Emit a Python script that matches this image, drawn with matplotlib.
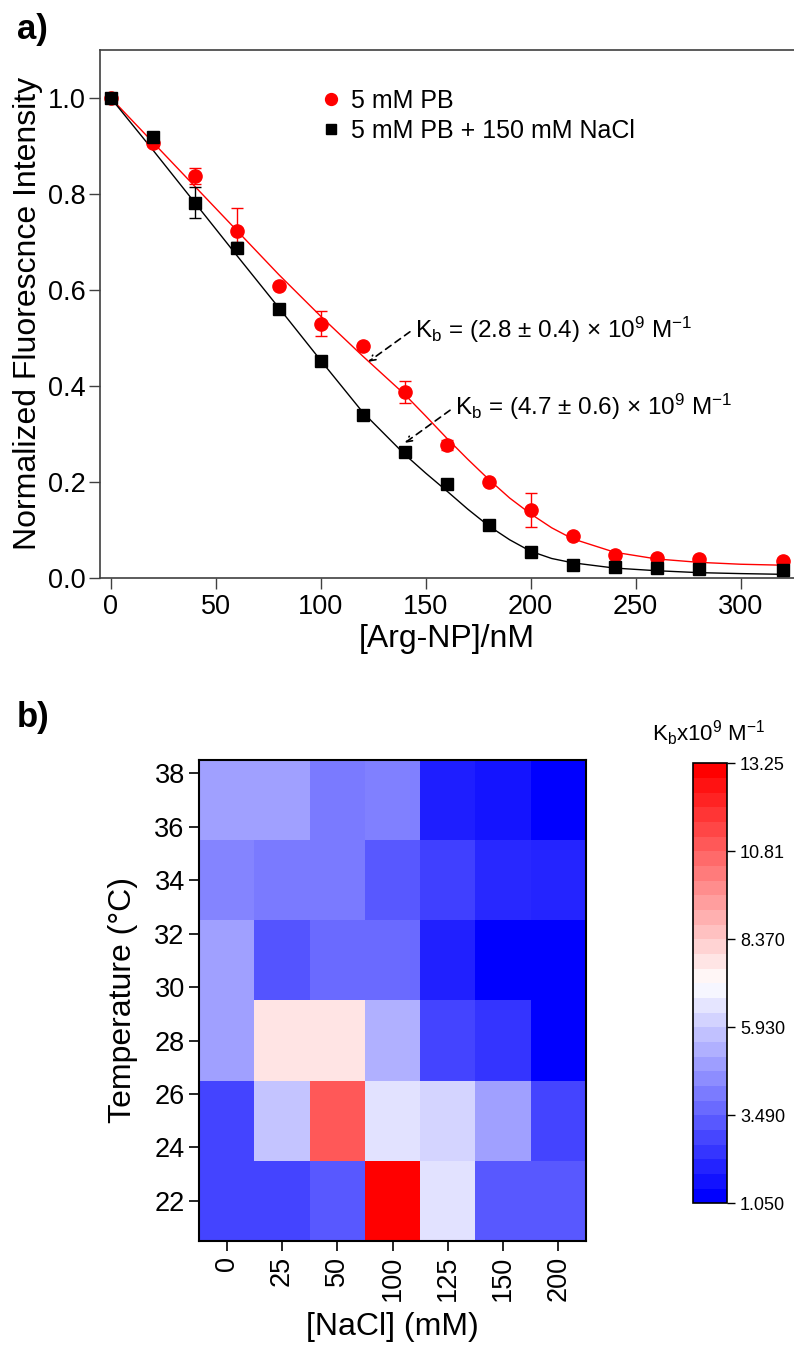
import numpy as np
import matplotlib
matplotlib.use("Agg")
import matplotlib.pyplot as plt
from matplotlib.colors import Normalize
from matplotlib.cm import ScalarMappable

plt.rcParams['font.family'] = ['Liberation Sans', 'DejaVu Sans']
plt.rcParams['mathtext.fontset'] = 'custom'
plt.rcParams['mathtext.rm'] = 'Liberation Sans'
plt.rcParams['mathtext.it'] = 'Liberation Sans:italic'

# ---- panel a data ----
conc = [0, 20, 40, 60, 80, 100, 120, 140, 160, 180, 200, 220, 240, 260, 280, 320]
pb = [1.0, 0.905, 0.837, 0.723, 0.608, 0.529, 0.482, 0.387, 0.277, 0.200, 0.141,
      0.086, 0.047, 0.040, 0.039, 0.034]
pb_err = [0, 0.005, 0.016, 0.047, 0.005, 0.026, 0.006, 0.022, 0.010, 0, 0.035,
          0, 0, 0, 0, 0]
nacl = [1.0, 0.919, 0.782, 0.688, 0.561, 0.452, 0.340, 0.261, 0.195, 0.110, 0.053,
        0.027, 0.022, 0.020, 0.018, 0.016]
nacl_err = [0, 0, 0.033, 0.012, 0, 0, 0, 0, 0, 0, 0, 0, 0, 0, 0, 0]

fit_x = [0, 20, 40, 60, 80, 100, 120, 140, 150, 160, 170, 180, 190, 200, 210, 220,
         240, 260, 280, 300, 320]
fit_pb = [1.0, 0.908, 0.816, 0.724, 0.632, 0.545, 0.462, 0.382, 0.337, 0.291, 0.247,
          0.205, 0.166, 0.133, 0.104, 0.081, 0.053, 0.039, 0.032, 0.028, 0.026]
fit_nacl = [1.0, 0.892, 0.782, 0.672, 0.563, 0.453, 0.345, 0.257, 0.218, 0.181, 0.143,
            0.108, 0.079, 0.055, 0.040, 0.031, 0.020, 0.0145, 0.0105, 0.0085, 0.007]

# ---- panel b data ----
nacl_labels = ['0', '25', '50', '100', '125', '150', '200']
temps = [22, 25, 28, 31, 34, 37]
kb = [
    [2.68, 2.68, 3.16, 13.25, 6.46, 3.16, 3.16],
    [2.68, 5.74, 11.15, 6.46, 6.12, 4.88, 2.68],
    [4.88, 7.80, 7.80, 5.26, 2.68, 2.29, 1.05],
    [4.88, 3.08, 3.59, 3.59, 1.86, 1.05, 1.05],
    [4.23, 3.99, 3.99, 3.16, 2.58, 2.01, 1.91],
    [4.88, 4.88, 3.99, 4.11, 1.81, 1.53, 1.05],
]
cbar_ticks = [1.05, 3.49, 5.93, 8.37, 10.81, 13.25]
cbar_labels = ['1.050', '3.490', '5.930', '8.370', '10.81', '13.25']

fig = plt.figure(figsize=(7.94, 13.57), dpi=100)

# ================= panel a =================
ax = fig.add_axes([0.1259, 0.5743, 0.8741, 0.3889])
spine_c = '#404040'
ax.plot(fit_x, fit_pb, color='red', lw=1.0, zorder=2)
ax.plot(fit_x, fit_nacl, color='black', lw=1.0, zorder=2)
ax.errorbar(conc, pb, yerr=pb_err, fmt='o', color='red', ms=9.5, capsize=4,
            elinewidth=1, capthick=1, zorder=3, label='5 mM PB')
ax.errorbar(conc, nacl, yerr=nacl_err, fmt='s', color='black', ms=8.5, capsize=4,
            elinewidth=1, capthick=1, zorder=4, label='5 mM PB + 150 mM NaCl')

ax.set_xlim(-5.1, 325.4)
ax.set_ylim(0, 1.1)
ax.set_xticks([0, 50, 100, 150, 200, 250, 300])
ax.set_yticks([0.0, 0.2, 0.4, 0.6, 0.8, 1.0])
ax.set_yticklabels(['0.0', '0.2', '0.4', '0.6', '0.8', '1.0'])
ax.tick_params(direction='out', length=8, width=1, colors=spine_c,
               labelcolor='black', labelsize=19.5)
ax.tick_params(axis='y', pad=2)
for s in ['left', 'bottom', 'top']:
    ax.spines[s].set_color(spine_c)
    ax.spines[s].set_linewidth(1.2)
ax.spines['right'].set_visible(False)
ax.set_xlabel('[Arg-NP]/nM', fontsize=23, labelpad=3)
ax.set_ylabel('Normalized Fluorescnce Intensity', fontsize=23, labelpad=4)

h, l = ax.get_legend_handles_labels()
ax.legend([hh[0] for hh in h], l, loc='upper left', bbox_to_anchor=(0.308, 0.945),
          frameon=False, fontsize=18, handlelength=0.6, handletextpad=0.5,
          labelspacing=0.25, borderaxespad=0, markerscale=0.9)

arrow = dict(arrowstyle='->', linestyle=(0, (4, 3)), color='black', lw=1.2,
             shrinkA=0, shrinkB=0)
ax.annotate('', xy=(122.7, 0.45), xytext=(142.5, 0.5125), arrowprops=arrow)
ax.annotate('', xy=(140.1, 0.281), xytext=(161.6, 0.349), arrowprops=arrow)
ax.text(144.9, 0.516,
        r'K$_\mathregular{b}$ = (2.8 ± 0.4) × 10$^\mathregular{9}$ M$^\mathregular{-1}$',
        va='center', fontsize=17.5)
ax.text(164.0, 0.356,
        r'K$_\mathregular{b}$ = (4.7 ± 0.6) × 10$^\mathregular{9}$ M$^\mathregular{-1}$',
        va='center', fontsize=17.5)

fig.text(0.021, 0.978, 'a)', fontsize=25, fontweight='bold', va='center')
fig.text(0.021, 0.4716, 'b)', fontsize=25, fontweight='bold', va='center')

# ================= panel b =================
hm = fig.add_axes([0.251, 0.0855, 0.4867, 0.3545])
norm = Normalize(vmin=1.05, vmax=13.25)
t = np.array(temps)
xedges = np.arange(len(nacl_labels) + 1) - 0.5
yedges = np.append(t - 1.5, t[-1] + 1.5)
hm.pcolormesh(xedges, yedges, np.array(kb), cmap='bwr', norm=norm)
hm.set_xlim(xedges[0], xedges[-1])
hm.set_ylim(yedges[0], yedges[-1])
hm.set_xticks(range(len(nacl_labels)))
hm.set_xticklabels(nacl_labels, rotation=90)
hm.set_yticks(range(22, 39, 2))
hm.tick_params(direction='out', length=7, width=1.2, labelsize=19.5)
for s in hm.spines.values():
    s.set_linewidth(1.5)
hm.set_xlabel('[NaCl] (mM)', fontsize=23, labelpad=8)
hm.set_ylabel('Temperature (°C)', fontsize=23, labelpad=12)

cax = fig.add_axes([0.8732, 0.1133, 0.042, 0.3242])
sm = ScalarMappable(norm=norm, cmap=plt.get_cmap('bwr').resampled(30))
cb = fig.colorbar(sm, cax=cax, ticks=cbar_ticks)
cb.set_ticklabels(cbar_labels)
cb.ax.tick_params(direction='out', length=6, width=1, labelsize=13)
cb.outline.set_linewidth(1.2)
fig.text(0.892, 1 - 733 / 1357,
         r'K$_\mathregular{b}$x10$^\mathregular{9}$ M$^\mathregular{-1}$',
         ha='center', va='center', fontsize=16)

fig.savefig('out.png', dpi=100)
